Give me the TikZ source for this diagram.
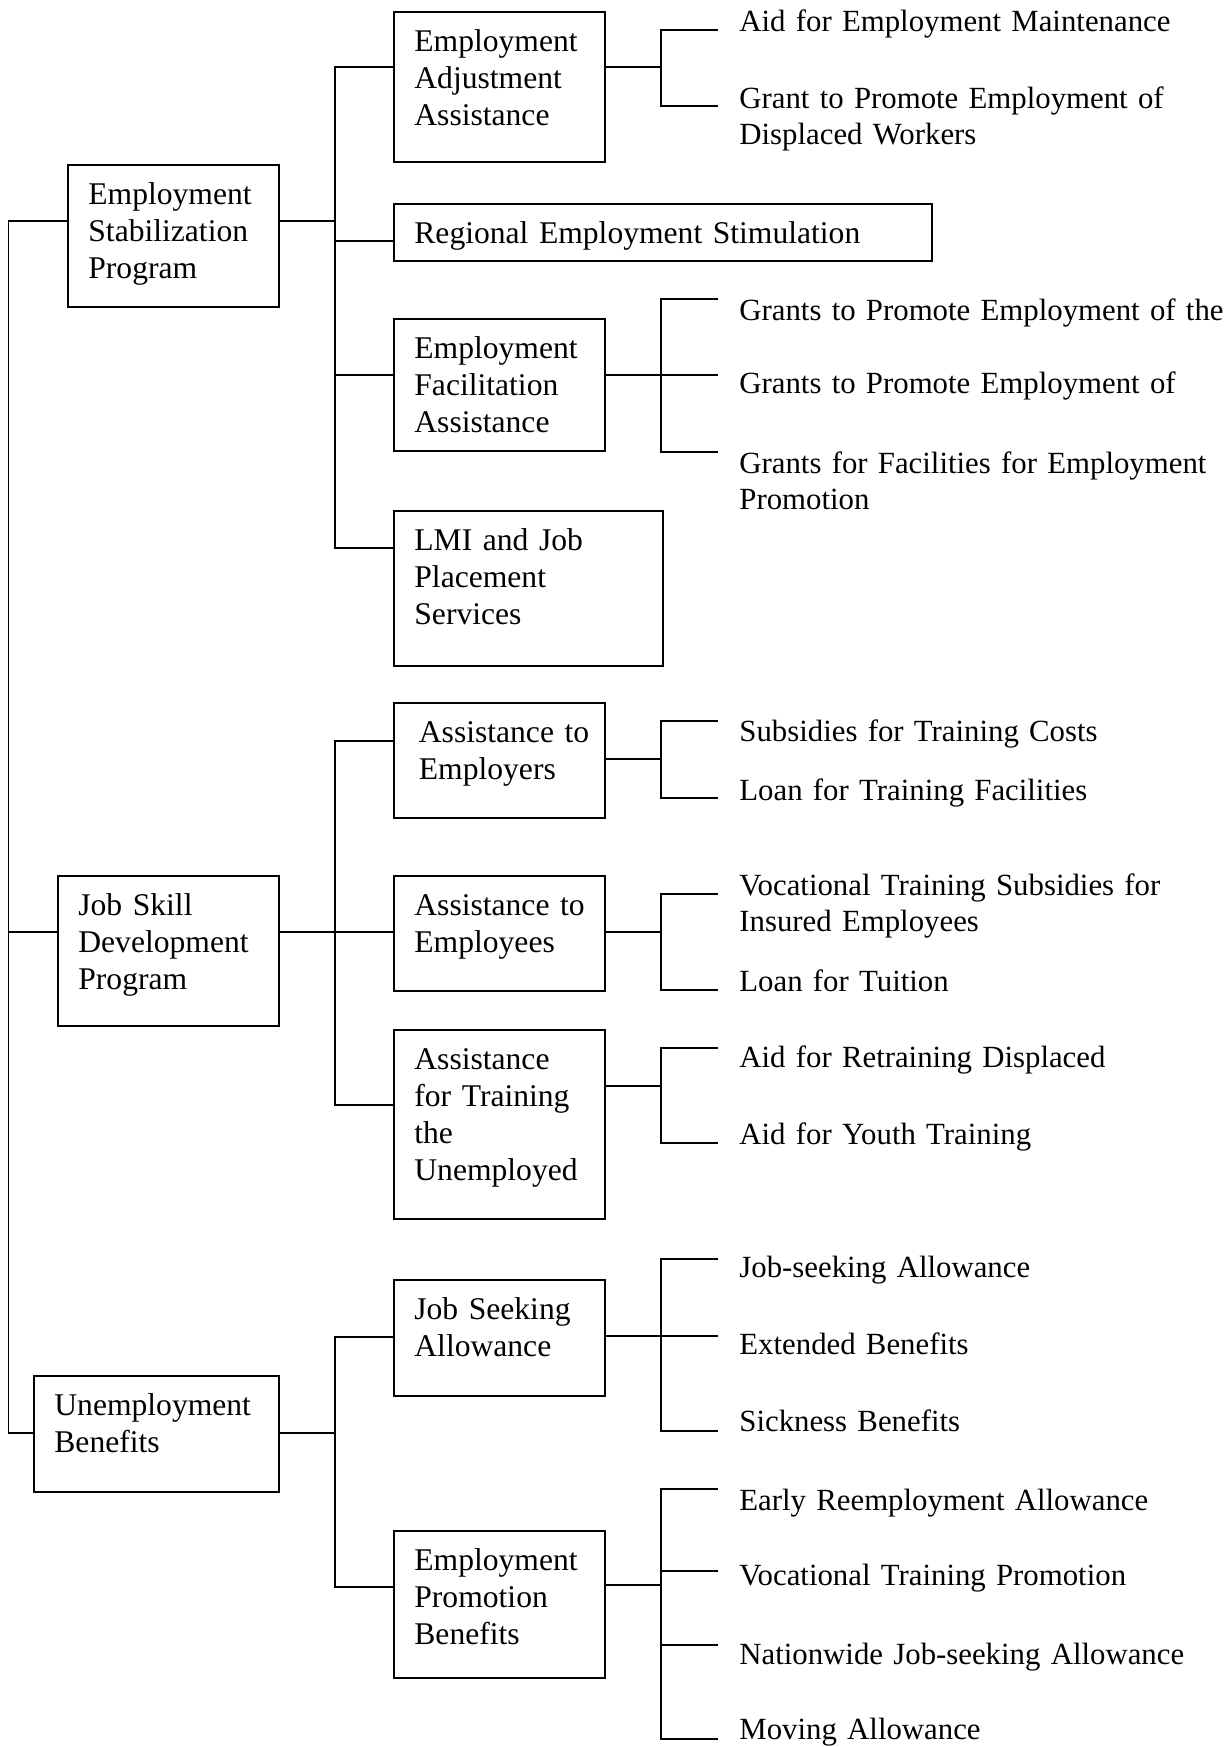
\documentclass[tikz,border=0pt]{standalone}
\usepackage{fontspec}
\setmainfont{Liberation Serif}
\usepackage{tikz}
\usetikzlibrary{positioning}
\tikzset{
    block/.style={rectangle, draw=black, line width=0.9pt, anchor=north west, align=left, text width=85pt, inner xsep=10.25pt, inner ysep=0pt, text height=20pt, font=\fontsize{15.8}{18.5}\selectfont},
    leaf/.style={anchor=base west, inner sep=0pt, text width=244pt, align=left, font=\fontsize{15.4}{18}\selectfont},
    conn/.style={line width=0.9pt, draw=black},
}

\begin{document}
\begin{tikzpicture}[x=0.5pt, y=-0.5pt]
\useasboundingbox (0,0) rectangle (1232,1747);

% Programs
\node[block, text depth=51pt] (esp) at (67,164) {Employment\\Stabilization\\Program};
\node[block, text width=90pt, text depth=55pt] (jsdp) at (57,875) {Job~Skill\\Development\\Program};
\node[block, text width=102pt, text depth=38pt] (ub) at (33,1375) {Unemployment\\Benefits};

% Employment stabilization
\node[block, text depth=55pt] (eaa) at (393,11) {Employment\\Adjustment\\Assistance};
\node[block, text width=248.5pt, text depth=8.5pt] (reg) at (393,203) {Regional Employment Stimulation};
\node[block, text depth=46pt] (efa) at (393,318) {Employment\\Facilitation\\Assistance};
\node[block, text width=114pt, text depth=57.5pt] (lmi) at (393,510) {LMI~and~Job\\Placement\\Services};

% Job skill development
\node[block, inner xsep=12.5pt, text width=80.5pt, text depth=37.5pt] (ate) at (393,702) {Assistance~to\\Employers};
\node[block, text depth=37.5pt] (atp) at (393,875) {Assistance~to\\Employees};
\node[block, text depth=74.5pt] (aftu) at (393,1029) {Assistance\\for~Training\\the\\Unemployed};

% Unemployment benefits
\node[block, text depth=38pt] (jsa) at (393,1279) {Job~Seeking\\Allowance};
\node[block, text depth=53.5pt] (epb) at (393,1530) {Employment\\Promotion\\Benefits};

% Leaves
\node[leaf] (aem) at (739,31) {Aid for Employment Maintenance};
\node[leaf] (gdw) at (739,108) {Grant to Promote Employment of\\Displaced Workers};
\node[leaf] (gpe1) at (739,320) {Grants~to~Promote~Employment~of~the};
\node[leaf] (gpe2) at (739,393) {Grants to Promote Employment of};
\node[leaf] (gff) at (739,473) {Grants for Facilities for Employment\\Promotion};
\node[leaf] (stc) at (739,741) {Subsidies for Training Costs};
\node[leaf] (ltf) at (739,800) {Loan for Training Facilities};
\node[leaf] (vts) at (739,895) {Vocational Training Subsidies for\\Insured Employees};
\node[leaf] (lft) at (739,991) {Loan for Tuition};
\node[leaf] (ard) at (739,1067) {Aid for Retraining Displaced};
\node[leaf] (ayt) at (739,1144) {Aid for Youth Training};
\node[leaf] (jsk) at (739,1277) {Job-seeking Allowance};
\node[leaf] (ext) at (739,1354) {Extended Benefits};
\node[leaf] (sick) at (739,1431) {Sickness Benefits};
\node[leaf] (era) at (739,1510) {Early Reemployment Allowance};
\node[leaf] (vtp) at (739,1585) {Vocational Training Promotion};
\node[leaf] (njs) at (739,1664) {Nationwide Job-seeking Allowance};
\node[leaf] (mov) at (739,1739) {Moving Allowance};

% Joints
\coordinate (esp_t) at (8.5,221);
\coordinate (jsdp_t) at (8.5,932);
\coordinate (ub_t) at (8.5,1433);
\coordinate (esp_j) at (335,221);
\coordinate (eaa_j) at (335,67);
\coordinate (reg_j) at (335,241);
\coordinate (efa_j) at (335,375);
\coordinate (lmi_j) at (335,548);
\coordinate (jsdp_j) at (335,932);
\coordinate (ate_j) at (335,741);
\coordinate (aftu_j) at (335,1105);
\coordinate (ub_j) at (335,1433);
\coordinate (jsa_j) at (335,1337);
\coordinate (epb_j) at (335,1587);
\coordinate (eaa_s) at (661,67);
\coordinate (efa_s) at (661,375);
\coordinate (ate_s) at (661,759);
\coordinate (atp_s) at (661,932);
\coordinate (aftu_s) at (661,1086);
\coordinate (jsa_s) at (661,1336);
\coordinate (epb_s) at (661,1585);
\coordinate (aem_j) at (718,30);
\coordinate (gdw_j) at (718,106);
\coordinate (gpe1_j) at (718,299);
\coordinate (gpe2_j) at (718,375);
\coordinate (gff_j) at (718,452);
\coordinate (stc_j) at (718,721);
\coordinate (ltf_j) at (718,798);
\coordinate (vts_j) at (718,894);
\coordinate (lft_j) at (718,990);
\coordinate (ard_j) at (718,1048);
\coordinate (ayt_j) at (718,1143);
\coordinate (jsk_j) at (718,1259);
\coordinate (ext_j) at (718,1336);
\coordinate (sick_j) at (718,1431);
\coordinate (era_j) at (718,1489);
\coordinate (vtp_j) at (718,1571);
\coordinate (njs_j) at (718,1645);
\coordinate (mov_j) at (718,1739);

% Connectors
\draw[conn] (esp.west |- esp_t) -- (esp_t) -- (ub_t) -- (ub.west |- ub_t);
\draw[conn] (jsdp_t) -- (jsdp.west |- jsdp_t);

\draw[conn] (esp.east |- esp_j) -- (esp_j);
\draw[conn] (eaa.west |- eaa_j) -| (lmi_j) -- (lmi.west |- lmi_j);
\draw[conn] (reg_j) -- (reg.west |- reg_j);
\draw[conn] (efa_j) -- (efa.west |- efa_j);

\draw[conn] (jsdp.east |- jsdp_j) -- (atp.west |- jsdp_j);
\draw[conn] (ate.west |- ate_j) -| (aftu_j) -- (aftu.west |- aftu_j);

\draw[conn] (ub.east |- ub_j) -- (ub_j);
\draw[conn] (jsa.west |- jsa_j) -| (epb_j) -- (epb.west |- epb_j);

\draw[conn] (eaa.east |- eaa_s) -- (eaa_s);
\draw[conn] (aem_j) -| (eaa_s) |- (gdw_j);
\draw[conn] (efa.east |- efa_s) -- (gpe2_j);
\draw[conn] (gpe1_j) -| (efa_s) |- (gff_j);

\draw[conn] (ate.east |- ate_s) -- (ate_s);
\draw[conn] (stc_j) -| (ate_s) |- (ltf_j);
\draw[conn] (atp.east |- atp_s) -- (atp_s);
\draw[conn] (vts_j) -| (atp_s) |- (lft_j);
\draw[conn] (aftu.east |- aftu_s) -- (aftu_s);
\draw[conn] (ard_j) -| (aftu_s) |- (ayt_j);

\draw[conn] (jsa.east |- jsa_s) -- (ext_j);
\draw[conn] (jsk_j) -| (jsa_s) |- (sick_j);
\draw[conn] (epb.east |- epb_s) -- (epb_s);
\draw[conn] (era_j) -| (epb_s) |- (mov_j);
\draw[conn] (vtp_j) -- (vtp_j -| epb_s);
\draw[conn] (njs_j) -- (njs_j -| epb_s);

\end{tikzpicture}
\end{document}
